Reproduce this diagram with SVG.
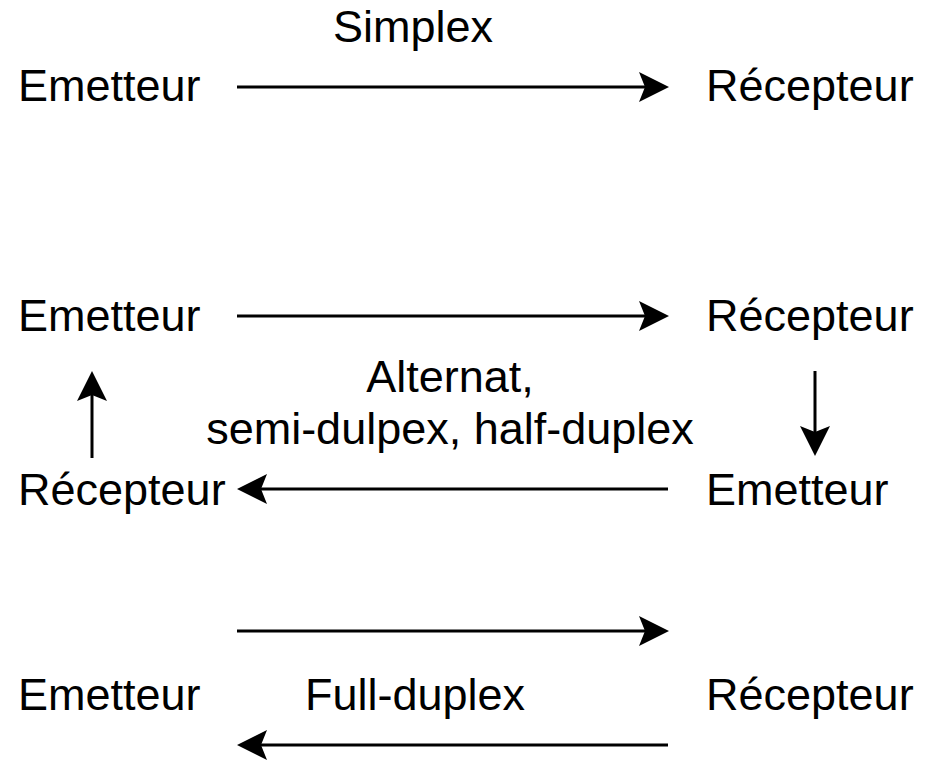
<svg xmlns="http://www.w3.org/2000/svg" width="926" height="760" viewBox="0 0 926 760">
  <style>
    .t { font-family: "Liberation Sans", Arial, Helvetica, sans-serif; font-size: 45px; fill: #000; }
    .m { text-anchor: middle; }
    .c { stroke: #000; stroke-width: 3; fill: none; marker-end: url(#arr); }
  </style>
  <defs>
    <marker id="arr" viewBox="-31 -16 32 32" markerWidth="32" markerHeight="32" refX="-24" refY="0" orient="auto" markerUnits="userSpaceOnUse">
      <path d="M0,0 L-30,-15 L-24,0 L-30,15 Z" fill="#000"/>
    </marker>
  </defs>
  <rect width="926" height="760" fill="#fff"/>

  <g id="simplex-label"><text class="t m" x="413" y="42">Simplex</text></g>
  <g id="simplex-emetteur"><text class="t" x="18" y="101">Emetteur</text></g>
  <g id="simplex-recepteur"><text class="t" x="706" y="101">Récepteur</text></g>

  <g id="half-emetteur"><text class="t" x="18" y="331">Emetteur</text></g>
  <g id="half-recepteur"><text class="t" x="706" y="331">Récepteur</text></g>
  <g id="half-label"><text class="t m" x="450" y="392">Alternat,</text><text class="t m" x="450" y="444">semi-dulpex, half-duplex</text></g>
  <g id="half-recepteur2"><text class="t" x="18" y="505">Récepteur</text></g>
  <g id="half-emetteur2"><text class="t" x="706" y="505">Emetteur</text></g>

  <g id="full-emetteur"><text class="t" x="18" y="710">Emetteur</text></g>
  <g id="full-label"><text class="t m" x="415" y="710">Full-duplex</text></g>
  <g id="full-recepteur"><text class="t" x="706" y="710">Récepteur</text></g>

  <g id="connectors">
    <line class="c" x1="237" y1="87" x2="645" y2="87"/>
    <line class="c" x1="237" y1="316" x2="645" y2="316"/>
    <line class="c" x1="668" y1="489" x2="261" y2="489"/>
    <line class="c" x1="92" y1="458" x2="92" y2="395"/>
    <line class="c" x1="815" y1="371" x2="815" y2="432"/>
    <line class="c" x1="237" y1="631" x2="645" y2="631"/>
    <line class="c" x1="668" y1="745" x2="261" y2="745"/>
  </g>
</svg>
